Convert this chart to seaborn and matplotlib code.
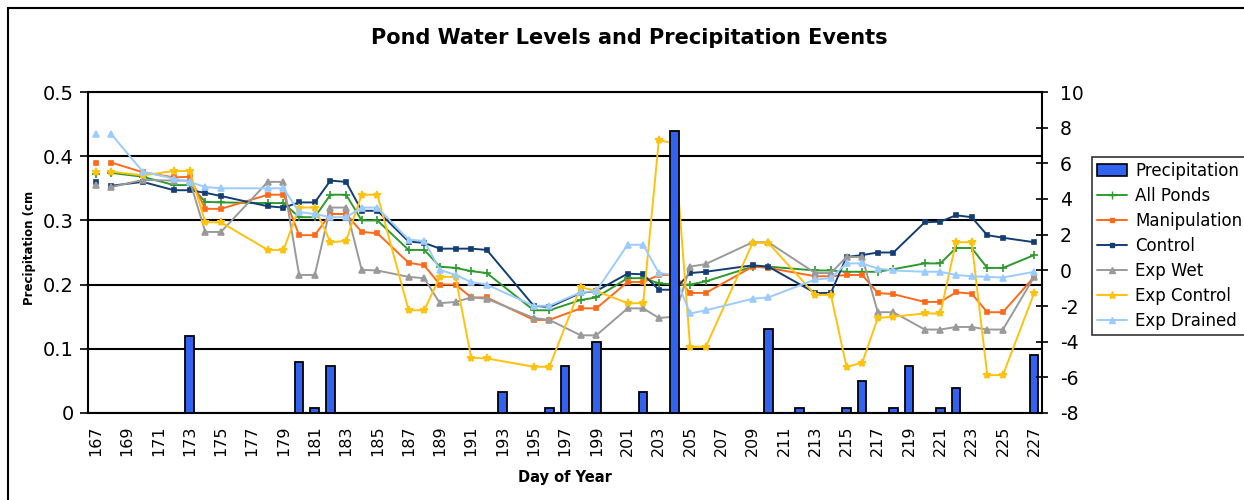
import matplotlib
matplotlib.use("Agg")
import numpy as np
import pandas as pd
import matplotlib.pyplot as plt
import seaborn as sns
from matplotlib.lines import Line2D
from matplotlib.patches import Patch, Rectangle

# days with pond level readings (day 167 stands alone, no line to 168)
level_days = [167, 168, 170, 172, 173, 174, 175, 178, 179, 180, 181, 182, 183, 184, 185,
              187, 188, 189, 190, 191, 192, 195, 196, 198, 199, 201, 202, 203, 204, 205,
              206, 209, 210, 213, 214, 215, 216, 217, 218, 220, 221, 222, 223, 224, 225, 227]

all_ponds = [0.372, 0.374, 0.368, 0.355, 0.355, 0.329, 0.328, 0.327, 0.327, 0.305, 0.305, 0.340,
             0.340, 0.300, 0.300, 0.254, 0.254, 0.228, 0.226, 0.221, 0.218, 0.160, 0.160, 0.176,
             0.180, 0.210, 0.210, 0.202, 0.200, 0.200, 0.205, 0.228, 0.228, 0.222, 0.222, 0.220,
             0.220, 0.220, 0.224, 0.233, 0.233, 0.257, 0.257, 0.226, 0.226, 0.246]
manipulation = [0.390, 0.390, 0.375, 0.367, 0.368, 0.318, 0.318, 0.340, 0.340, 0.277, 0.277, 0.310,
                0.310, 0.282, 0.280, 0.234, 0.230, 0.200, 0.200, 0.180, 0.180, 0.145, 0.145, 0.163,
                0.163, 0.204, 0.204, 0.215, 0.215, 0.187, 0.187, 0.228, 0.226, 0.213, 0.213, 0.215,
                0.215, 0.187, 0.185, 0.173, 0.173, 0.188, 0.186, 0.157, 0.157, 0.212]
control = [0.360, 0.354, 0.360, 0.347, 0.347, 0.343, 0.338, 0.322, 0.320, 0.328, 0.328, 0.362,
           0.360, 0.315, 0.315, 0.267, 0.265, 0.256, 0.256, 0.256, 0.254, 0.167, 0.165, 0.187,
           0.190, 0.217, 0.216, 0.192, 0.192, 0.218, 0.220, 0.230, 0.228, 0.187, 0.187, 0.243,
           0.246, 0.250, 0.250, 0.297, 0.298, 0.308, 0.305, 0.277, 0.273, 0.266]
exp_wet = [0.355, 0.352, 0.363, 0.362, 0.362, 0.282, 0.282, 0.360, 0.360, 0.215, 0.215, 0.320,
           0.320, 0.223, 0.222, 0.212, 0.210, 0.171, 0.173, 0.180, 0.178, 0.148, 0.145, 0.121,
           0.121, 0.163, 0.163, 0.148, 0.150, 0.228, 0.232, 0.266, 0.266, 0.218, 0.218, 0.243,
           0.243, 0.157, 0.157, 0.130, 0.130, 0.134, 0.134, 0.130, 0.130, 0.212]
exp_control = [0.375, 0.376, 0.370, 0.377, 0.377, 0.297, 0.297, 0.254, 0.254, 0.320, 0.320, 0.266,
               0.268, 0.340, 0.340, 0.160, 0.160, 0.212, 0.212, 0.086, 0.085, 0.072, 0.072, 0.196,
               0.190, 0.171, 0.171, 0.425, 0.420, 0.103, 0.103, 0.265, 0.265, 0.184, 0.184, 0.072,
               0.078, 0.148, 0.150, 0.155, 0.155, 0.266, 0.266, 0.059, 0.059, 0.187]
exp_drained = [0.435, 0.434, 0.376, 0.365, 0.360, 0.352, 0.350, 0.350, 0.350, 0.313, 0.310, 0.305,
               0.305, 0.320, 0.320, 0.270, 0.268, 0.223, 0.215, 0.204, 0.200, 0.167, 0.167, 0.188,
               0.190, 0.262, 0.262, 0.218, 0.215, 0.155, 0.160, 0.178, 0.180, 0.208, 0.210, 0.233,
               0.233, 0.225, 0.222, 0.220, 0.220, 0.215, 0.213, 0.212, 0.211, 0.220]

# precipitation events (cm)
precip_days = [173, 180, 181, 182, 193, 196, 197, 199, 202, 204, 210, 212, 215, 216, 218, 219, 221, 222, 227]
precip_cm = [0.12, 0.08, 0.008, 0.073, 0.033, 0.008, 0.073, 0.111, 0.033, 0.44, 0.131, 0.008,
             0.008, 0.05, 0.008, 0.073, 0.008, 0.039, 0.09]

series = [("All Ponds", all_ponds, "#2E9A2E", "+", 6),
          ("Manipulation", manipulation, "#FF6A1A", "s", 3.5),
          ("Control", control, "#143D73", "s", 3.5),
          ("Exp Wet", exp_wet, "#9A9A9A", "^", 4),
          ("Exp Control", exp_control, "#FFC20E", "*", 6),
          ("Exp Drained", exp_drained, "#9CCBFF", "^", 4.5)]
bar_col = "#3262F0"

sns.set_style("white")
plt.rcParams['font.family'] = ['DejaVu Sans']
plt.rcParams['text.color'] = 'black'
plt.rcParams['axes.labelcolor'] = 'black'
plt.rcParams['xtick.color'] = 'black'
plt.rcParams['ytick.color'] = 'black'

fig = plt.figure(figsize=(12.44, 5.0), dpi=100)
ax = fig.add_axes([88/1244, 1 - 413/500, (1042 - 88)/1244, (413 - 92)/500])

###########################################################################
# water level lines: first reading is a lone marker, the rest one line
for name, vals, col, mk, ms in series:
    d = pd.DataFrame({"day": level_days, "level": vals}).dropna()
    first = d.iloc[:1]
    rest = d.iloc[1:]
    sns.lineplot(data=first, x="day", y="level", color=col, marker=mk, markersize=ms,
                 markeredgecolor=col, markeredgewidth=1.2, linewidth=0, ax=ax, zorder=2)
    sns.lineplot(data=rest, x="day", y="level", color=col, marker=mk, markersize=ms,
                 markeredgecolor=col, markeredgewidth=1.2, linewidth=1.4, ax=ax, zorder=2)

# precipitation bars
sns.barplot(x=precip_days, y=precip_cm, native_scale=True, color=bar_col, saturation=1,
            edgecolor="black", linewidth=1.3, width=0.55, errorbar=None, ax=ax, zorder=3)

###########################################################################
ax.set_xlim(166.5, 227.5)
ax.set_ylim(0, 0.5)
ax.set_yticks(np.arange(0, 0.51, 0.1))
ax.set_yticklabels(["0", "0.1", "0.2", "0.3", "0.4", "0.5"], fontsize=14)
odd_days = list(range(167, 228, 2))
ax.set_xticks(odd_days)
ax.set_xticklabels([str(d) for d in odd_days], rotation=90, fontsize=11.5)
ax.set_xticks(np.arange(166.5, 228, 1), minor=True)
ax.tick_params(axis="x", which="major", length=0, pad=9)
ax.tick_params(axis="x", which="minor", length=6, width=1.2, direction="out", color="black")
ax.tick_params(axis="y", length=6, width=1.2, direction="out", color="black", pad=4)
ax.yaxis.grid(True, color="black", linewidth=1.5)
ax.set_axisbelow(True)
ax.spines["right"].set_visible(False)
for s in ["left", "bottom", "top"]:
    ax.spines[s].set_color("black")
    ax.spines[s].set_linewidth(1.5)

ax.set_xlabel("Day of Year", fontsize=10.5, fontweight="bold")
ax.xaxis.set_label_coords(0.5, -(470 - 413)/321)
ax.set_ylabel("Precipitation (cm", fontsize=8.5, fontweight="bold")
ax.yaxis.set_label_coords(-(88 - 36)/954, (413 - 248)/321)

# secondary axis
ax2 = ax.twinx()
ax2.set_ylim(-8, 10)
ax2.set_yticks(range(-8, 11, 2))
ax2.set_yticklabels([str(v) for v in range(-8, 11, 2)], fontsize=13.5)
ax2.tick_params(axis="y", length=8, width=1.2, direction="inout", color="black", pad=9)
for s in ["top", "left", "bottom"]:
    ax2.spines[s].set_visible(False)
ax2.spines["right"].set_color("black")
ax2.spines["right"].set_linewidth(1.5)

fig.text(629/1244, 1 - 38/500, "Pond Water Levels and Precipitation Events",
         ha="center", va="center", fontsize=15, fontweight="bold")

handles = [Patch(facecolor=bar_col, edgecolor="black", linewidth=1.2, label="Precipitation")]
for name, vals, col, mk, ms in series:
    handles.append(Line2D([], [], color=col, marker=mk, markersize=ms, markeredgecolor=col,
                          linewidth=1.4, label=name))
leg = fig.legend(handles=handles, loc="upper left", bbox_to_anchor=(1092/1244, 1 - 157/500),
                 fontsize=12, frameon=True, fancybox=False, edgecolor="black", borderpad=0.3,
                 labelspacing=0.42, handlelength=1.8, handletextpad=0.5, borderaxespad=0)
leg.get_frame().set_linewidth(1.2)

# chart area border
fig.add_artist(Rectangle((8/1244, -0.05), 1.1, 1 - 8/500 + 0.05, transform=fig.transFigure,
                         fill=False, edgecolor="black", linewidth=1.5, clip_on=False))

fig.savefig("out.png", dpi=100)
